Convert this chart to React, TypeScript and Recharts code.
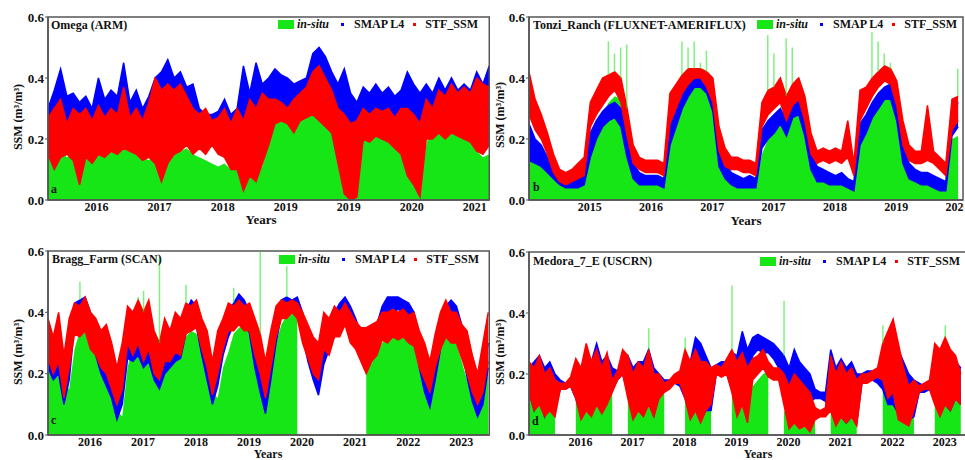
import React from "react";
import { ComposedChart, Area, Bar, XAxis, YAxis, ReferenceArea } from "recharts";

const GREEN = "#16e616";
const BLUE = "#0000ff";
const RED = "#ff0000";
const FRAME = "#555555";
const INK = "#111111";
const STEP = 0.1; // years between samples

// ---- a: Omega (ARM)
const omegaTicks = [0.77, 1.77, 2.77, 3.77, 4.77, 5.77, 6.77];
const omegaTickLabels = ["2016", "2017", "2018", "2019", "2019", "2020", "2021"];
const omegaInsitu = [
  .17, .15, .16, .14, .15, .13, .15, .14, .16, .15,
  .18, .19, .20, .18, .17, .14, .13, .15, .16, .21,
  .18, .16, .17, .15, .14, .13, .12, .11, .12, .10,
  .10, .09, .12, .10, .11, .20, .27, .28, .27, .30,
  .31, .33, .30, .29, .27, .24, .18, .09, .03, .20,
  .25, .24, .26, .25, .22, .20, .17, .15, .10, .05,
  .18, .26, .28, .27, .30, .29, .30, .25, .16, .14, .15,
];
const omegaSmapHi = [
  .30, .36, .43, .34, .35, .32, .34, .30, .40, .33,
  .36, .34, .45, .32, .36, .30, .34, .40, .42, .46,
  .40, .42, .37, .38, .30, .28, .28, .29, .33, .28,
  .30, .44, .35, .45, .38, .40, .43, .41, .40, .38,
  .39, .40, .48, .50, .47, .42, .38, .43, .35, .32,
  .37, .35, .38, .35, .37, .34, .36, .42, .38, .35,
  .38, .35, .40, .36, .40, .36, .38, .36, .42, .38, .44,
];
const omegaSmapLo = [
  .15, .18, .20, .18, .16, .17, .18, .15, .18, .16,
  .17, .18, .20, .17, .18, .16, .18, .20, .20, .18,
  .20, .22, .22, .20, .22, .22, .22, .20, .15, .16,
  .12, .05, .12, .10, .15, .20, .30, .30, .28, .28,
  .28, .28, .30, .30, .28, .25, .20, .12, .12, .10,
  .20, .22, .22, .20, .22, .20, .18, .15, .12, .12,
  .22, .22, .24, .22, .24, .24, .22, .22, .24, .22, .22,
];
const omegaStfHi = [
  .27, .30, .33, .25, .30, .28, .30, .26, .31, .27,
  .30, .28, .37, .27, .30, .26, .32, .40, .36, .38,
  .36, .38, .34, .30, .28, .30, .26, .27, .30, .25,
  .30, .26, .33, .30, .35, .33, .33, .32, .30, .33,
  .35, .37, .42, .44, .40, .36, .30, .28, .25, .26,
  .30, .28, .30, .29, .30, .27, .30, .30, .28, .25,
  .33, .30, .36, .34, .38, .35, .37, .35, .40, .38, .37,
];
const omegaStfLo = [
  .15, .10, .14, .15, .13, .05, .14, .12, .15, .14,
  .16, .15, .17, .16, .15, .13, .14, .12, .06, .12,
  .15, .16, .18, .15, .17, .15, .18, .15, .14, .10,
  .10, .03, .08, .06, .12, .18, .25, .26, .25, .22,
  .26, .27, .28, .26, .24, .22, .12, .02, .00, .01,
  .20, .19, .21, .20, .19, .17, .15, .08, .05, .01,
  .20, .20, .22, .20, .22, .21, .20, .19, .16, .15, .18,
];
const omegaSpikeIdx: number[] = [];
const omegaSpikeVal: number[] = [];

// ---- b: Tonzi_Ranch (FLUXNET-AMERIFLUX)
const tonziTicks = [0.99, 1.99, 2.99, 3.99, 4.99, 5.99, 6.99];
const tonziTickLabels = ["2015", "2016", "2017", "2017", "2018", "2019", "2020"];
const tonziInsitu = [
  .14, .13, .12, .10, .08, .06, .05, .05, .05, .06,
  .15, .22, .28, .32, .34, .33, .25, .14, .08, .06,
  .05, .05, .05, .19, .25, .33, .36, .38, .38, .36,
  .30, .12, .07, .06, .05, .05, .05, .05, .15, .20,
  .24, .26, .25, .30, .32, .25, .10, .07, .06, .05,
  .05, .05, .05, .04, .20, .27, .30, .33, .35, .35,
  .28, .12, .08, .07, .07, .07, .06, .06, .05, .20, .21,
];
const tonziSmapHi = [
  .25, .20, .18, .14, .10, .08, .07, .07, .08, .09,
  .22, .26, .29, .31, .32, .30, .20, .12, .09, .08,
  .08, .08, .07, .25, .32, .36, .40, .41, .42, .40,
  .36, .18, .12, .09, .08, .07, .08, .07, .23, .26,
  .28, .30, .26, .32, .34, .28, .16, .11, .10, .09,
  .08, .09, .07, .06, .25, .28, .32, .35, .37, .38,
  .33, .19, .12, .10, .09, .09, .08, .07, .06, .28, .32,
];
const tonziSmapLo = [
  .13, .12, .11, .09, .07, .05, .04, .04, .04, .05,
  .14, .20, .24, .26, .27, .24, .14, .07, .05, .05,
  .05, .05, .04, .18, .24, .30, .34, .37, .37, .35,
  .29, .11, .07, .05, .04, .04, .04, .04, .17, .20,
  .22, .25, .21, .27, .28, .21, .10, .06, .06, .05,
  .05, .05, .04, .03, .18, .22, .27, .30, .33, .33,
  .26, .12, .07, .06, .05, .05, .04, .03, .03, .21, .24,
];
const tonziStfHi = [
  .42, .33, .28, .22, .15, .10, .09, .10, .12, .14,
  .32, .36, .40, .41, .42, .40, .30, .18, .14, .13,
  .13, .13, .12, .35, .38, .41, .43, .43, .43, .42,
  .40, .24, .17, .14, .14, .13, .13, .12, .32, .36,
  .37, .40, .34, .38, .40, .34, .22, .16, .17, .16,
  .17, .16, .26, .12, .36, .37, .40, .42, .44, .43,
  .39, .26, .18, .16, .16, .31, .16, .14, .12, .33, .34,
];
const tonziStfLo = [
  .28, .23, .20, .15, .09, .06, .05, .06, .07, .08,
  .24, .28, .31, .34, .36, .32, .21, .12, .10, .09,
  .09, .09, .08, .25, .30, .35, .38, .40, .40, .37,
  .32, .16, .11, .10, .10, .09, .09, .08, .24, .28,
  .30, .32, .26, .31, .33, .26, .15, .12, .13, .12,
  .13, .12, .14, .08, .26, .30, .34, .37, .39, .38,
  .31, .18, .13, .12, .12, .13, .12, .10, .08, .23, .26,
];
const tonziSpikeIdx = [13, 14, 15, 16, 25, 26, 27, 28, 29, 39, 40, 42, 43, 56, 57, 58, 59, 70];
const tonziSpikeVal = [.52, .48, .50, .51, .52, .50, .52, .45, .49, .54, .48, .53, .50, .55, .52, .48, .45, .43];

// ---- c: Bragg_Farm (SCAN)
const braggTicks = [0.79, 1.79, 2.79, 3.79, 4.79, 5.79, 6.79, 7.79];
const braggTickLabels = ["2016", "2017", "2018", "2019", "2020", "2021", "2022", "2023"];
const braggInsitu = [
  .21, .20, .19, .16, .15, .28, .34, .35, .33, .30,
  .26, .20, .14, .08, .06, .22, .29, .30, .31, .30,
  .28, .22, .22, .25, .27, .29, .32, .34, .33, .28,
  .22, .14, .12, .22, .27, .33, .35, .36, .34, .28,
  .20, .12, .18, .30, .36, .39, .40, .39, null, null,
  null, null, null, null, null, null, null, null, null, null,
  .27, .28, .27, .30, .33, .35, .36, .35, .34, .33,
  .26, .18, .13, .20, .29, .33, .34, .30, .24, .18,
  .12, .09, .14, .20,
];
const braggSmapHi = [
  .33, .30, .35, .20, .32, .43, .44, .45, .40, .34,
  .28, .26, .20, .12, .20, .33, .33, .34, .30, .35,
  .26, .22, .28, .28, .31, .32, .40, .44, .42, .34,
  .27, .16, .24, .33, .40, .43, .46, .44, .40, .32,
  .22, .14, .26, .38, .44, .45, .44, .45, .40, .32,
  .26, .20, .32, .36, .40, .43, .45, .42, .38, .33,
  .32, .32, .36, .42, .45, .45, .45, .44, .43, .40,
  .32, .22, .15, .26, .36, .42, .44, .42, .36, .28,
  .20, .12, .20, .30,
];
const braggSmapLo = [
  .22, .18, .20, .10, .18, .36, .38, .38, .32, .26,
  .20, .16, .12, .05, .10, .25, .24, .26, .22, .24,
  .18, .15, .20, .22, .24, .25, .33, .38, .35, .26,
  .18, .10, .16, .26, .32, .36, .40, .38, .33, .22,
  .14, .07, .18, .30, .39, .41, .41, .41, .32, .24,
  .18, .13, .23, .28, .32, .38, .41, .34, .30, .26,
  .25, .25, .30, .36, .40, .40, .41, .40, .37, .33,
  .22, .14, .09, .18, .28, .36, .39, .36, .28, .19,
  .11, .06, .10, .22,
];
const braggStfHi = [
  .38, .32, .40, .26, .38, .43, .42, .45, .40, .38,
  .34, .36, .30, .22, .30, .42, .40, .44, .40, .44,
  .34, .30, .38, .34, .40, .38, .43, .42, .44, .38,
  .34, .24, .34, .38, .43, .42, .44, .42, .43, .38,
  .33, .24, .34, .42, .44, .43, .44, .43, .40, .36,
  .32, .30, .40, .38, .42, .40, .43, .40, .37, .35,
  .35, .36, .37, .40, .40, .41, .40, .41, .39, .40,
  .34, .30, .24, .33, .40, .44, .40, .40, .36, .34,
  .26, .20, .30, .40,
];
const braggStfLo = [
  .25, .20, .24, .12, .22, .33, .32, .34, .28, .26,
  .22, .20, .15, .10, .15, .30, .26, .30, .24, .28,
  .20, .18, .24, .24, .27, .26, .33, .34, .35, .28,
  .22, .13, .20, .28, .34, .34, .36, .34, .34, .26,
  .20, .12, .22, .32, .38, .38, .40, .38, .30, .25,
  .20, .18, .28, .26, .32, .32, .36, .30, .28, .24,
  .20, .24, .26, .31, .30, .32, .31, .32, .30, .29,
  .22, .18, .14, .22, .28, .32, .30, .30, .25, .20,
  .14, .10, .14, .24,
];
const braggSpikeIdx = [6, 17, 18, 21, 26, 35, 40, 45];
const braggSpikeVal = [.50, .45, .47, .58, .49, .48, .60, .55];

// ---- d: Medora_7_E (USCRN)
const medoraTicks = [0.99, 1.99, 2.99, 3.99, 4.99, 5.99, 6.99, 7.99];
const medoraTickLabels = ["2016", "2017", "2018", "2019", "2020", "2021", "2022", "2023"];
const medoraInsitu = [
  .18, .17, .15, .14, .13, .12, null, null, null, .15,
  .14, .16, .15, .14, .13, .15, .14, null, null, .18,
  .17, .19, .16, .15, .17, .18, .16, null, null, null,
  .18, .17, .14, .12, .11, .13, null, null, null, .18,
  .16, .15, .14, .16, .18, .20, .21, null, null, .08,
  .06, .05, .07, .06, .05, .04, null, null, .10, .11,
  .09, .10, .08, .09, null, null, null, null, .18, .17,
  .19, .16, .12, .10, .08, null, null, null, .12, .15,
  .14, .13, .16, .15,
];
const medoraSmapHi = [
  .22, .24, .26, .22, .24, .20, .18, .17, .18, .22,
  .20, .26, .24, .30, .24, .26, .22, .21, .23, .26,
  .22, .24, .24, .28, .22, .20, .18, .18, .19, .20,
  .25, .24, .32, .30, .26, .22, .23, .24, .24, .27,
  .26, .34, .28, .32, .33, .32, .31, .30, .28, .26,
  .22, .28, .24, .22, .20, .15, .14, .14, .28, .22,
  .25, .22, .24, .20, .20, .21, .21, .20, .24, .26,
  .30, .28, .24, .20, .18, .17, .16, .17, .28, .24,
  .30, .26, .24, .22,
];
const medoraSmapLo = [
  .14, .08, .12, .06, .10, .08, .15, .15, .16, .12,
  .06, .10, .08, .12, .08, .12, .15, .18, .20, .14,
  .07, .10, .08, .12, .06, .14, .15, .16, .17, .16,
  .12, .06, .10, .05, .08, .08, .20, .21, .20, .15,
  .08, .12, .10, .26, .28, .27, .27, .25, .22, .18,
  .10, .12, .10, .12, .11, .12, .12, .11, .08, .04,
  .06, .04, .06, .04, .17, .18, .18, .17, .15, .10,
  .10, .07, .08, .05, .06, .14, .14, .15, .12, .08,
  .10, .08, .12, .10,
];
const medoraStfHi = [
  .24, .22, .26, .20, .22, .18, .17, .17, .19, .25,
  .22, .30, .24, .28, .22, .27, .18, .21, .28, .26,
  .20, .24, .22, .28, .20, .20, .17, .18, .20, .21,
  .28, .24, .28, .24, .24, .22, .23, .22, .25, .28,
  .24, .27, .22, .25, .26, .28, .24, .22, .22, .20,
  .16, .20, .18, .16, .14, .09, .08, .09, .26, .20,
  .24, .20, .22, .18, .20, .20, .21, .22, .30, .34,
  .38, .30, .22, .16, .18, .16, .17, .18, .30, .28,
  .32, .28, .26, .20,
];
const medoraStfLo = [
  .14, .08, .10, .06, .08, .06, .15, .15, .16, .12,
  .05, .08, .06, .10, .07, .10, .14, .18, .20, .12,
  .05, .08, .06, .10, .06, .12, .14, .15, .17, .17,
  .12, .05, .08, .04, .08, .10, .20, .19, .20, .14,
  .06, .10, .04, .18, .20, .22, .19, .18, .18, .10,
  .02, .04, .02, .03, .01, .05, .06, .06, .08, .03,
  .06, .04, .06, .03, .17, .17, .18, .19, .18, .12,
  .14, .05, .04, .03, .08, .14, .15, .15, .10, .06,
  .10, .08, .12, .10,
];
const medoraSpikeIdx = [23, 30, 39, 49, 68, 80];
const medoraSpikeVal = [.35, .32, .49, .44, .36, .36];

type Row = {
  t: number;
  insitu: number | null;
  smap: [number, number];
  stf: [number, number];
  spike: [number, number] | null;
};

function buildRows(
  insitu: (number | null)[],
  smapLo: number[],
  smapHi: number[],
  stfLo: number[],
  stfHi: number[],
  spikeIdx: number[],
  spikeVal: number[]
): Row[] {
  return insitu.map((v, i) => {
    const k = spikeIdx.indexOf(i);
    // an in-situ spike only shows above the satellite clouds
    const cloudTop = Math.max(smapHi[i], stfHi[i]);
    return {
      t: Math.round(i * STEP * 100) / 100,
      insitu: v,
      smap: [smapLo[i], smapHi[i]],
      stf: [stfLo[i], stfHi[i]],
      spike: k >= 0 ? [cloudTop, spikeVal[k]] : null,
    };
  });
}

interface PanelProps {
  left: number;
  top: number;
  width: number;
  height: number;
  marginTop: number;
  marginRight: number;
  rows: Row[];
  xMax: number;
  ticks: number[];
  tickLabels: string[];
}

function Panel(p: PanelProps) {
  return (
    <div style={{ position: "absolute", left: p.left, top: p.top, width: p.width, height: p.height }}>
      <ComposedChart
        width={p.width}
        height={p.height}
        data={p.rows}
        margin={{ top: p.marginTop, right: p.marginRight, bottom: 0, left: 0 }}
      >
        <XAxis
          dataKey="t"
          type="number"
          domain={[0, p.xMax]}
          allowDataOverflow
          ticks={p.ticks}
          interval={0}
          tickFormatter={(_v: number, i: number) => p.tickLabels[i]}
          height={30}
          tickLine={false}
          tickSize={0}
          tickMargin={2}
          axisLine={{ stroke: FRAME, strokeWidth: 1.5 }}
          tick={{ fontSize: 12, fontWeight: 700, fill: INK }}
        />
        <XAxis
          xAxisId="top"
          orientation="top"
          dataKey="t"
          type="number"
          domain={[0, p.xMax]}
          allowDataOverflow
          ticks={p.ticks}
          interval={0}
          height={0}
          mirror
          tick={false}
          tickSize={4}
          axisLine={false}
          tickLine={{ stroke: FRAME }}
        />
        <YAxis
          type="number"
          domain={[0, 0.6]}
          ticks={[0, 0.2, 0.4, 0.6]}
          interval={0}
          width={48}
          tickFormatter={(v: number) => v.toFixed(1)}
          tickSize={3}
          tickMargin={1}
          axisLine={{ stroke: FRAME, strokeWidth: 1.5 }}
          tickLine={{ stroke: FRAME }}
          tick={{ fontSize: 13, fontWeight: 700, fill: INK }}
        />
        <Area
          dataKey="insitu"
          type="linear"
          stroke="none"
          fill={GREEN}
          fillOpacity={1}
          connectNulls={false}
          isAnimationActive={false}
        />
        <Area
          dataKey="smap"
          type="linear"
          stroke={BLUE}
          strokeWidth={1.5}
          fill={BLUE}
          fillOpacity={1}
          dot={false}
          activeDot={false}
          isAnimationActive={false}
        />
        <Area
          dataKey="stf"
          type="linear"
          stroke={RED}
          strokeWidth={1.5}
          fill={RED}
          fillOpacity={1}
          dot={false}
          activeDot={false}
          isAnimationActive={false}
        />
        <Bar dataKey="spike" barSize={1.5} fill={GREEN} fillOpacity={0.55} isAnimationActive={false} />
        <ReferenceArea x1={0} x2={p.xMax} y1={0} y2={0.6} fill="none" stroke={FRAME} strokeWidth={1.5} />
      </ComposedChart>
    </div>
  );
}

const txt: React.CSSProperties = {
  position: "absolute",
  fontFamily: "'Liberation Serif', 'Times New Roman', serif",
  fontWeight: 700,
  fontSize: 12,
  lineHeight: "14px",
  color: INK,
  whiteSpace: "nowrap",
};

function Text({ x, y, center, children, style }: { x: number; y: number; center?: boolean; children: React.ReactNode; style?: React.CSSProperties }) {
  return (
    <div style={{ ...txt, left: x, top: y - 7, transform: center ? "translateX(-50%)" : undefined, ...style }}>
      {children}
    </div>
  );
}

function YLabel({ x, y }: { x: number; y: number }) {
  return (
    <div style={{ ...txt, left: x, top: y, transform: "translate(-50%, -50%) rotate(-90deg)" }}>
      SSM (m³/m³)
    </div>
  );
}

function Legend({ x, y }: { x: number; y: number }) {
  const dot = (c: string, ml: number, mr: number) => (
    <span style={{ display: "inline-block", width: 3, height: 3, background: c, marginLeft: ml, marginRight: mr }} />
  );
  return (
    <div style={{ ...txt, left: x, top: y - 7, display: "flex", alignItems: "center" }}>
      <span style={{ display: "inline-block", width: 16, height: 9, background: GREEN, marginRight: 3 }} />
      <span style={{ fontStyle: "italic" }}>in-situ</span>
      {dot(BLUE, 12, 10)}
      <span>SMAP L4</span>
      {dot(RED, 9, 9)}
      <span>STF_SSM</span>
    </div>
  );
}

const yearsTop: React.CSSProperties = { fontSize: 13, lineHeight: "12px" };
const yearsBottom: React.CSSProperties = { fontSize: 12, lineHeight: "10px" };

export default function App() {
  const omegaRows = buildRows(omegaInsitu, omegaSmapLo, omegaSmapHi, omegaStfLo, omegaStfHi, omegaSpikeIdx, omegaSpikeVal);
  const tonziRows = buildRows(tonziInsitu, tonziSmapLo, tonziSmapHi, tonziStfLo, tonziStfHi, tonziSpikeIdx, tonziSpikeVal);
  const braggRows = buildRows(braggInsitu, braggSmapLo, braggSmapHi, braggStfLo, braggStfHi, braggSpikeIdx, braggSpikeVal);
  const medoraRows = buildRows(medoraInsitu, medoraSmapLo, medoraSmapHi, medoraStfLo, medoraStfHi, medoraSpikeIdx, medoraSpikeVal);

  return (
    <div
      style={{
        position: "absolute",
        left: 0,
        top: 0,
        width: 965,
        height: 460,
        background: "#fff",
        overflow: "hidden",
        fontFamily: "'Liberation Serif', 'Times New Roman', serif",
      }}
    >
      <Panel left={0} top={0} width={490} height={230} marginTop={17} marginRight={0.7}
        rows={omegaRows} xMax={7.0} ticks={omegaTicks} tickLabels={omegaTickLabels} />
      <Panel left={481} top={0} width={483} height={230} marginTop={17} marginRight={1}
        rows={tonziRows} xMax={7.08} ticks={tonziTicks} tickLabels={tonziTickLabels} />
      <Panel left={0} top={235} width={490} height={230} marginTop={16} marginRight={0.7}
        rows={braggRows} xMax={8.32} ticks={braggTicks} tickLabels={braggTickLabels} />
      <Panel left={481} top={235} width={486} height={230} marginTop={17} marginRight={0}
        rows={medoraRows} xMax={8.42} ticks={medoraTicks} tickLabels={medoraTickLabels} />

      <Text x={51} y={25}>Omega (ARM)</Text>
      <Text x={533} y={25}>Tonzi_Ranch (FLUXNET-AMERIFLUX)</Text>
      <Text x={52} y={259}>Bragg_Farm (SCAN)</Text>
      <Text x={533} y={261}>Medora_7_E (USCRN)</Text>

      <Text x={51} y={189}>a</Text>
      <Text x={533} y={187}>b</Text>
      <Text x={51} y={420}>c</Text>
      <Text x={532} y={421}>d</Text>

      <Text x={261} y={221} center style={yearsTop}>Years</Text>
      <Text x={746} y={222} center style={yearsTop}>Years</Text>
      <Text x={268} y={456} center style={yearsBottom}>Years</Text>
      <Text x={758} y={456} center style={yearsBottom}>Years</Text>

      <YLabel x={18} y={117} />
      <YLabel x={500} y={115} />
      <YLabel x={18} y={352} />
      <YLabel x={500} y={352} />

      <Legend x={278} y={24} />
      <Legend x={757} y={24} />
      <Legend x={279} y={259} />
      <Legend x={760} y={261} />
    </div>
  );
}
